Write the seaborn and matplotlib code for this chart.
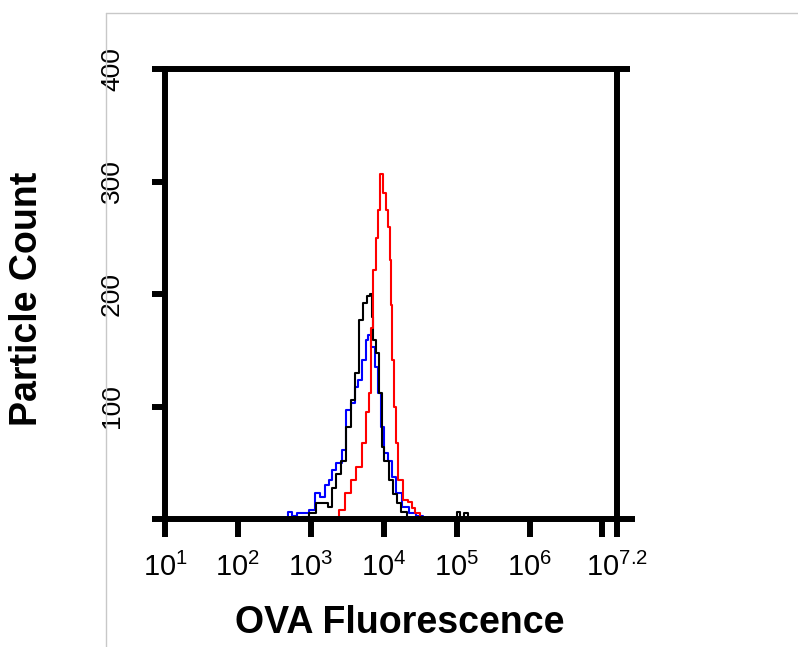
import numpy as np
import pandas as pd
import seaborn as sns

import matplotlib
matplotlib.use('Agg')

import matplotlib.pyplot as plt
from matplotlib.lines import Line2D
from matplotlib.ticker import FixedLocator, FixedFormatter, NullLocator, NullFormatter

# Histogram traces: log10(fluorescence) and particle count
red_log = [3.27, 3.37, 3.41, 3.51, 3.59, 3.66, 3.73, 3.79, 3.81, 3.84, 3.87, 3.91, 3.94, 3.97,
           4.01, 4.04, 4.07, 4.10, 4.11, 4.13, 4.16, 4.17, 4.23, 4.30, 4.37, 4.41, 4.44, 4.56]
red_count = [0, 0, 8, 23, 35, 46, 68, 95, 112, 170, 221, 250, 275, 307,
             290, 275, 260, 230, 190, 141, 100, 68, 35, 17, 15, 10, 5, 0]

black_log = [2.84, 2.91, 3.03, 3.10, 3.19, 3.27, 3.31, 3.39, 3.44, 3.51, 3.59, 3.63, 3.70, 3.74,
             3.80, 3.83, 3.84, 3.87, 3.91, 3.96, 3.99, 4.03, 4.10, 4.16, 4.20, 4.27, 4.37,
             4.99, 5.03, 5.07, 5.13, 5.17]
black_count = [0, 2, 5, 14, 14, 11, 28, 40, 52, 82, 106, 130, 177, 192,
               198, 200, 180, 159, 148, 112, 64, 52, 35, 22, 14, 6, 0,
               0, 6, 0, 5, 0]

blue_log = [2.67, 2.70, 2.77, 2.84, 2.93, 3.01, 3.09, 3.16, 3.23, 3.27, 3.31, 3.39, 3.46, 3.51,
            3.59, 3.63, 3.67, 3.73, 3.77, 3.80, 3.86, 3.89, 3.94, 3.99, 4.03, 4.09, 4.13, 4.20,
            4.30, 4.39, 4.49, 4.59]
blue_count = [0, 6, 3, 5, 5, 8, 23, 20, 30, 35, 44, 50, 61, 97,
              103, 117, 124, 141, 159, 164, 153, 135, 112, 82, 59, 52, 37, 23,
              11, 5, 3, 0]

x_tick_exp = [1, 2, 3, 4, 5, 6, 7, 7.2]
x_tick_labels = [r'$10^{1}$', r'$10^{2}$', r'$10^{3}$', r'$10^{4}$', r'$10^{5}$',
                 r'$10^{6}$', '', r'$10^{7.2}$']
y_ticks = [0, 100, 200, 300, 400]
y_tick_labels = ['', '100', '200', '300', '400']

frames = []
for name, lx, cnt in [('blue', blue_log, blue_count),
                      ('black', black_log, black_count),
                      ('red', red_log, red_count)]:
    frames.append(pd.DataFrame({'fluor': 10 ** np.array(lx), 'count': cnt, 'sample': name}))
df = pd.concat(frames, ignore_index=True)

sns.set_style('ticks')
plt.rcParams['font.family'] = ['Liberation Sans', 'DejaVu Sans']
plt.rcParams['mathtext.fontset'] = 'custom'
plt.rcParams['mathtext.rm'] = 'Liberation Sans'
plt.rcParams['text.color'] = 'black'
plt.rcParams['axes.labelcolor'] = 'black'

fig = plt.figure(figsize=(7.98, 6.47), dpi=100)
ax = fig.add_axes([0.2068, 0.1978, 0.5664, 0.6955])

sns.lineplot(data=df, x='fluor', y='count', hue='sample',
             palette={'blue': '#0000ff', 'black': '#000000', 'red': '#ff0000'},
             estimator=None, sort=False, drawstyle='steps-mid', linewidth=1.5,
             legend=False, ax=ax)

ax.set_xscale('log')
ax.set_xlim(10 ** 1, 10 ** 7.2)
ax.set_ylim(0, 400)

ax.xaxis.set_major_locator(FixedLocator([10 ** e for e in x_tick_exp]))
ax.xaxis.set_major_formatter(FixedFormatter(x_tick_labels))
ax.xaxis.set_minor_locator(NullLocator())
ax.yaxis.set_major_locator(FixedLocator(y_ticks))
ax.yaxis.set_major_formatter(FixedFormatter(y_tick_labels))
ax.yaxis.set_minor_locator(NullLocator())

for sp in ax.spines.values():
    sp.set_visible(True)
    sp.set_linewidth(4.3)
    sp.set_color('black')

ax.tick_params(axis='x', direction='out', length=13, width=4.3, pad=11,
               labelsize=21, colors='black')
ax.tick_params(axis='y', direction='out', length=9.5, width=4.3, pad=20,
               labelsize=19, labelrotation=90, right=False, colors='black')
for lab in ax.get_yticklabels():
    lab.set_va('center')

# right frame: only the two corner overshoots
sec = ax.secondary_yaxis('right')
sec.spines['right'].set_visible(False)
sec.yaxis.set_major_locator(FixedLocator([0]))
sec.yaxis.set_minor_locator(FixedLocator([400]))
sec.yaxis.set_major_formatter(NullFormatter())
sec.yaxis.set_minor_formatter(NullFormatter())
sec.tick_params(which='major', direction='out', length=13, width=4.3, colors='black')
sec.tick_params(which='minor', direction='out', length=9.5, width=4.3, colors='black')

ax.set_xlabel('OVA Fluorescence', fontsize=27, fontweight='bold', color='black')
ax.set_ylabel('Particle Count', fontsize=27, fontweight='bold', color='black')
ax.xaxis.set_label_coords(0.52, -0.19)
ax.yaxis.set_label_coords(-0.265, 0.49)

# light grey frame of the pasted picture
fig.add_artist(Line2D([106 / 798, 1], [1 - 13 / 647, 1 - 13 / 647],
                      transform=fig.transFigure, color='#c8c8c8', linewidth=1))
fig.add_artist(Line2D([106 / 798, 106 / 798], [0, 1 - 13 / 647],
                      transform=fig.transFigure, color='#c8c8c8', linewidth=1))

plt.savefig('out.png', dpi=100)
plt.close()
